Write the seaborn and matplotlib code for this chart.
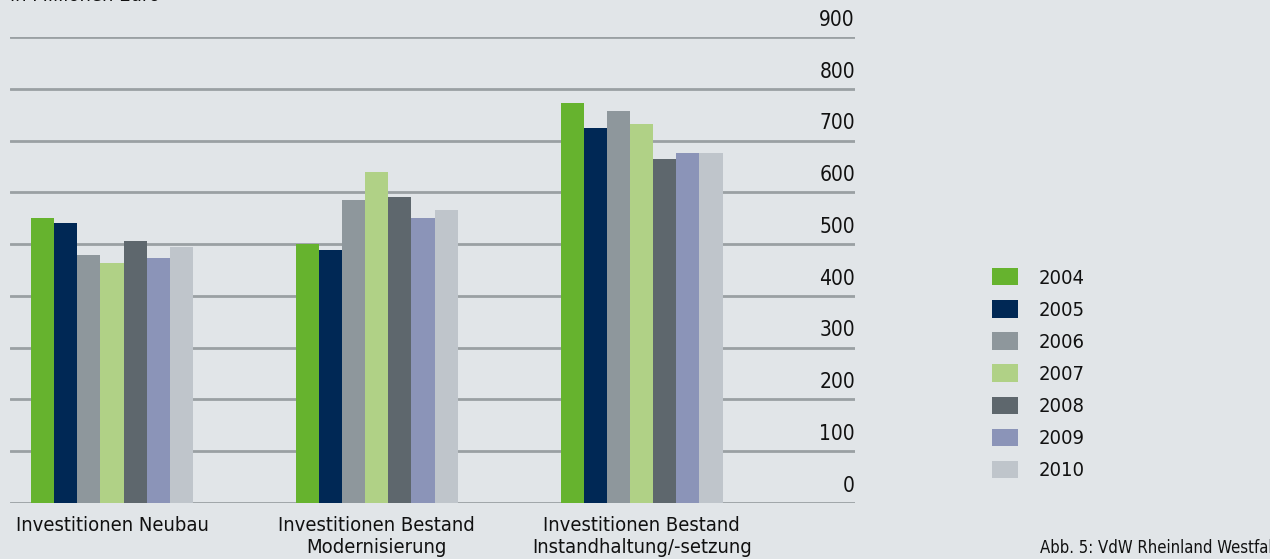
import pandas as pd
import matplotlib.pyplot as plt
import seaborn as sns

# Daten
kategorien = ['Investitionen Neubau', 'Investitionen Bestand\nModernisierung',
              'Investitionen Bestand\nInstandhaltung/-setzung']
jahre = ['2004', '2005', '2006', '2007', '2008', '2009', '2010']
neubau = [550, 541, 479, 463, 506, 473, 494]
modernisierung = [500, 488, 585, 639, 591, 550, 566]
instandhaltung = [772, 724, 757, 732, 664, 676, 676]
farben = ['#66b32e', '#002855', '#8e979c', '#b0d186', '#5e676d', '#8b94b8', '#bfc5cb']
y_ticks = [0, 100, 200, 300, 400, 500, 600, 700, 800, 900]

rows = []
for kat, werte in zip(kategorien, [neubau, modernisierung, instandhaltung]):
    for j, w in zip(jahre, werte):
        rows.append({'Kategorie': kat, 'Jahr': j, 'Wert': w})
df = pd.DataFrame(rows)

bg = '#e1e5e8'
sns.set_style('white')
plt.rcParams['font.family'] = ['DejaVu Sans']
plt.rcParams['font.stretch'] = 'condensed'

fig = plt.figure(figsize=(12.7, 5.59), dpi=100, facecolor=bg)
ax = fig.add_axes([10 / 1270, 56 / 559, 845 / 1270, 466 / 559], facecolor=bg)

sns.barplot(data=df, x='Kategorie', y='Wert', hue='Jahr', palette=farben,
            width=0.61, saturation=1, ax=ax, zorder=3, legend=True, linewidth=0)

ax.set_ylim(0, 900)
ax.set_xlim(-0.385, 2.805)
ax.set_yticks(y_ticks)
ax.yaxis.grid(True, color='#9aa0a3', linewidth=2, zorder=0)
ax.set_axisbelow(True)
for s in ax.spines.values():
    s.set_visible(False)
ax.tick_params(axis='y', left=False, labelleft=False)
ax.tick_params(axis='x', bottom=False, labelsize=14.5, pad=6, labelcolor='#111111')
ax.set_xlabel('')
ax.set_ylabel('')

tr = ax.get_yaxis_transform()
for v in y_ticks:
    ax.text(1.0, v + 14, str(v), transform=tr, ha='right', va='bottom',
            fontsize=15, color='#111111')

handles, labels = ax.get_legend_handles_labels()
ax.legend_.remove()
fig.legend(handles, labels, loc='upper left', bbox_to_anchor=(974 / 1270, 1 - 250 / 559),
           frameon=False, fontsize=14.5, handlelength=1.3, handleheight=0.95,
           labelspacing=0.62, handletextpad=1.0, labelcolor='#111111')

fig.text(10 / 1270, 1 - 1 / 559, 'in Millionen Euro', fontsize=14.5, va='baseline', ha='left',
         color='#111111')
fig.text(1040 / 1270, 1 - 553 / 559, 'Abb. 5: VdW Rheinland Westfalen', fontsize=12,
         va='baseline', ha='left', color='#111111')

fig.savefig('out.png', dpi=100, facecolor=bg)
